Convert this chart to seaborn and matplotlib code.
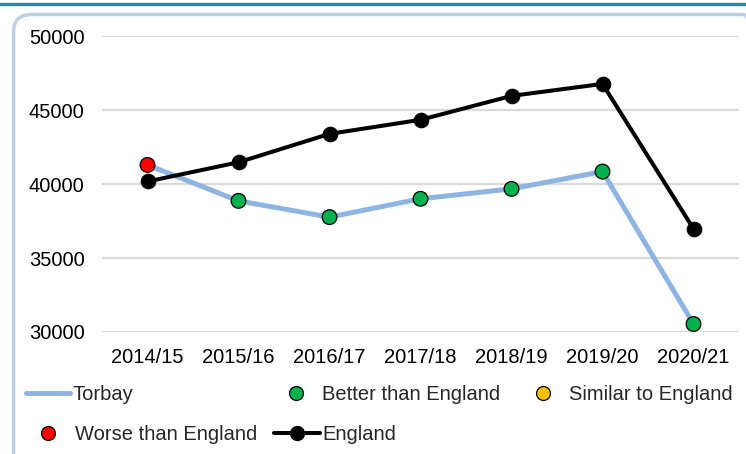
import matplotlib
matplotlib.use("Agg")
import matplotlib.pyplot as plt
import seaborn as sns
import pandas as pd
from matplotlib.lines import Line2D
from matplotlib.patches import FancyBboxPatch

# Financial years on the category axis
years = ["2014/15", "2015/16", "2016/17", "2017/18", "2018/19", "2019/20", "2020/21"]

# Torbay values and how each compares with England
torbay = [41300, 38870, 37770, 39010, 39680, 40850, 30540]
torbay_vs_england = ["Worse than England", "Better than England", "Better than England",
                     "Better than England", "Better than England", "Better than England",
                     "Better than England"]

# England benchmark
england = [40180, 41480, 43400, 44350, 45970, 46780, 36980]

y_ticks = [30000, 35000, 40000, 45000, 50000]

comparison_colors = {
    "Better than England": "#00B050",
    "Similar to England": "#FFC000",
    "Worse than England": "#FF0000",
}
torbay_color = "#8DB4E2"

df = pd.DataFrame({
    "year": years,
    "x": range(len(years)),
    "torbay": torbay,
    "england": england,
    "comparison": torbay_vs_england,
})

sns.set_theme(style="white")
plt.rcParams["font.family"] = ["Liberation Sans", "DejaVu Sans"]

W, H = 746, 454
fig = plt.figure(figsize=(W / 100, H / 100), dpi=100)
ax = fig.add_axes([102 / W, 1 - 332 / H, (739 - 102) / W, (332 - 36.3) / H])

# Torbay line, coloured comparison markers, then England on top
sns.lineplot(data=df, x="x", y="torbay", ax=ax, color=torbay_color, lw=3.6,
             legend=False, zorder=2)
sns.scatterplot(data=df, x="x", y="torbay", hue="comparison", palette=comparison_colors,
                ax=ax, s=112, edgecolor="black", linewidth=0.9, legend=False,
                zorder=3, clip_on=False)
sns.lineplot(data=df, x="x", y="england", ax=ax, color="black", lw=2.9,
             marker="o", markersize=10.5, markeredgecolor="black",
             legend=False, zorder=4, clip_on=False)

ax.set_xlim(-0.5, len(years) - 0.5)
ax.set_ylim(30000, 50000)
ax.set_xticks(range(len(years)))
ax.set_xticklabels(years)
ax.set_yticks(y_ticks)
ax.set_yticklabels([str(v) for v in y_ticks])
ax.set_xlabel("")
ax.set_ylabel("")
ax.grid(axis="y", color="#D9D9D9", lw=1.6)
ax.grid(axis="x", visible=False)
ax.set_axisbelow(True)
for side in ["top", "right", "left", "bottom"]:
    ax.spines[side].set_visible(False)
ax.tick_params(axis="both", length=0, labelsize=14.5, colors="black")
ax.tick_params(axis="y", pad=12.5)
ax.tick_params(axis="x", pad=11.5)

# Legend entries laid out in two rows
fs = 14.5
entries = [
    (Line2D([], [], color=torbay_color, lw=3.6), "Torbay", 26, 395, 2.19, 0.1),
    (Line2D([], [], ls="none", marker="o", markersize=10, markerfacecolor=comparison_colors["Better than England"],
            markeredgecolor="black", markeredgewidth=0.9), "Better than England", 286, 395, 1.0, 0.8),
    (Line2D([], [], ls="none", marker="o", markersize=10, markerfacecolor=comparison_colors["Similar to England"],
            markeredgecolor="black", markeredgewidth=0.9), "Similar to England", 533, 395, 1.0, 0.8),
    (Line2D([], [], ls="none", marker="o", markersize=10, markerfacecolor=comparison_colors["Worse than England"],
            markeredgecolor="black", markeredgewidth=0.9), "Worse than England", 38, 435, 1.0, 0.85),
    (Line2D([], [], color="black", lw=2.9, marker="o", markersize=10), "England", 274, 435, 2.29, 0.1),
]
for handle, label, px, py, hl, tp in entries:
    fig.legend(handles=[handle], labels=[label], loc="center left",
               bbox_to_anchor=(px / W, 1 - py / H), frameon=False, fontsize=fs,
               handlelength=hl, handletextpad=tp, borderpad=0, borderaxespad=0,
               numpoints=1)

# Rounded panel border and teal rule along the top
frame = FancyBboxPatch((13.5 + 18, -20 + 18), (762 - 13.5) - 36, (454 - 14.5 + 20) - 36,
                       boxstyle="round,pad=18", transform=None, facecolor="none",
                       edgecolor="#BCD0E8", lw=2.5, zorder=0)
fig.patches.append(frame)
fig.add_artist(Line2D([0, 1], [1 - 4 / H, 1 - 4 / H], transform=fig.transFigure,
                      color="#31859C", lw=2.4))

fig.savefig("out.png", dpi=100)
